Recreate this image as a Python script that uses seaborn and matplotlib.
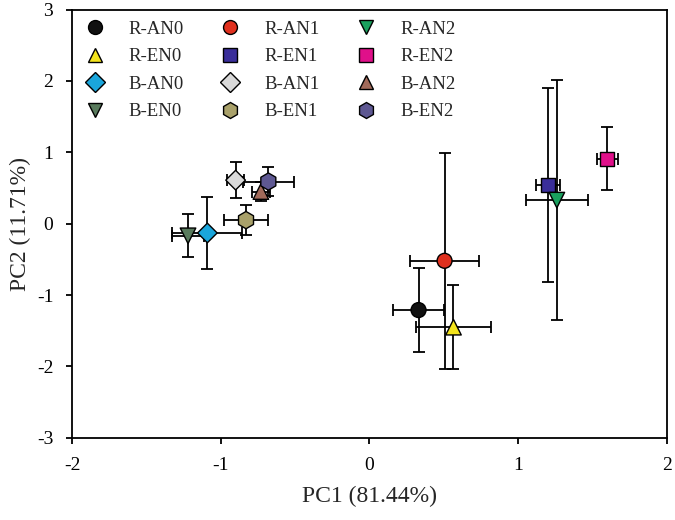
import matplotlib
matplotlib.use("Agg")
import matplotlib.pyplot as plt
import seaborn as sns
import pandas as pd

groups = ["R-AN0", "R-EN0", "B-AN0", "B-EN0",
          "R-AN1", "R-EN1", "B-AN1", "B-EN1",
          "R-AN2", "R-EN2", "B-AN2", "B-EN2"]
pc1 = [0.33, 0.565, -1.09, -1.22, 0.505, 1.20, -0.90, -0.83, 1.26, 1.60, -0.73, -0.68]
pc2 = [-1.21, -1.45, -0.13, -0.17, -0.52, 0.54, 0.61, 0.05, 0.33, 0.91, 0.45, 0.59]
pc1_err = [0.17, 0.255, 0.235, 0.105, 0.23, 0.08, 0.058, 0.145, 0.207, 0.073, 0.06, 0.17]
pc2_err = [0.59, 0.59, 0.50, 0.30, 1.51, 1.36, 0.25, 0.21, 1.68, 0.44, 0.13, 0.20]

colors = ["#111111", "#f4e41c", "#1aa6dc", "#587a5c",
          "#e0301e", "#3a2e9a", "#d9d9d9", "#a9a16a",
          "#1aa05e", "#e0108a", "#a26a5a", "#5e5892"]
markers = ["o", "^", "D", "v", "o", "s", "D", "h", "v", "s", "^", "h"]
msizes = [115, 125, 100, 125, 115, 100, 100, 155, 125, 100, 125, 155]

df = pd.DataFrame({"group": groups, "PC1": pc1, "PC2": pc2,
                   "xerr": pc1_err, "yerr": pc2_err})

sns.set_style("ticks")
plt.rcParams["font.family"] = ["Liberation Serif", "DejaVu Serif"]
plt.rcParams["axes.unicode_minus"] = False

fig = plt.figure(figsize=(6.75, 5.2), dpi=100)
ax = fig.add_axes([0.1067, 0.158, 0.8813, 0.8237])

ax.errorbar(df["PC1"], df["PC2"], xerr=df["xerr"], yerr=df["yerr"],
            fmt="none", ecolor="black", elinewidth=1.3, capsize=4.5,
            capthick=1.3, zorder=2)

palette = dict(zip(groups, colors))
mk = dict(zip(groups, markers))
sz = dict(zip(groups, msizes))
sns.scatterplot(data=df, x="PC1", y="PC2", hue="group", style="group",
                size="group", sizes=sz,
                hue_order=groups, style_order=groups, size_order=groups,
                palette=palette, markers=mk, edgecolor="black",
                linewidth=1.0, zorder=3, ax=ax)

handles, labels = ax.get_legend_handles_labels()
for h, lab in zip(handles, labels):
    try:
        h.set_markeredgecolor("black")
        h.set_markeredgewidth(1.0)
        h.set_markersize(11.5 if mk.get(lab) == "h" else 10)
    except Exception:
        pass
ax.legend(handles, labels, ncol=3, frameon=False, loc="upper left",
          bbox_to_anchor=(0.0, 1.0), fontsize=13.5, handlelength=1.2,
          handletextpad=1.2, columnspacing=1.9, labelspacing=0.55,
          borderaxespad=0.2)

ax.set_xlim(-2, 2)
ax.set_ylim(-3, 3)
ax.set_xticks([-2, -1, 0, 1, 2])
ax.set_yticks([-3, -2, -1, 0, 1, 2, 3])
ax.tick_params(direction="out", length=4.5, width=1.3, pad=9,
               labelsize=14, colors="black")
for sp in ax.spines.values():
    sp.set_linewidth(1.3)
    sp.set_color("black")
    sp.set_visible(True)
ax.set_xlabel("PC1 (81.44%)", fontsize=17, labelpad=9)
ax.set_ylabel("PC2 (11.71%)", fontsize=17, labelpad=4)

fig.savefig("out.png", dpi=100)
